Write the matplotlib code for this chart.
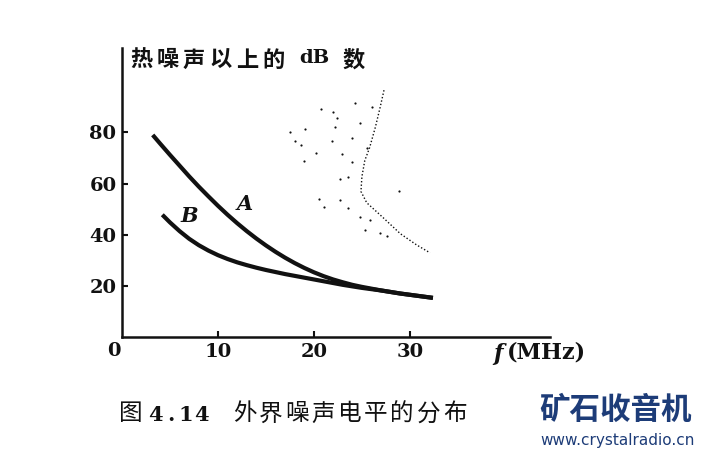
import matplotlib
matplotlib.use("Agg")
import matplotlib.pyplot as plt

# --- DATOS ---
freq_a = [3.2, 4, 5, 6, 7, 8, 9, 10, 11, 12, 13, 14, 15, 16, 17, 18, 19, 20,
          21, 22, 23, 24, 25, 26, 27, 28, 29, 30, 31, 32.4]
db_a = [79, 75.5, 71.2, 67, 62.8, 58.8, 55, 51.3, 47.8, 44.5, 41.4, 38.5, 35.8, 33.3, 31.0, 28.9, 27.0, 25.3,
        23.8, 22.5, 21.4, 20.4, 19.6, 18.9, 18.2, 17.6, 17.0, 16.5, 16.0, 15.3]

freq_b = [4.2, 5, 6, 7, 8, 9, 10, 11, 12, 13, 14, 15, 16, 17, 18, 19, 20,
          21, 22, 23, 24, 25, 26, 27, 28, 29, 30, 31, 32.4]
db_b = [47.8, 44.8, 41.4, 38.4, 35.9, 33.8, 32.0, 30.5, 29.2, 28.1, 27.1, 26.2, 25.4, 24.6, 23.9, 23.2, 22.5,
        21.8, 21.1, 20.4, 19.8, 19.2, 18.7, 18.2, 17.6, 17.0, 16.5, 16.0, 15.3]

# trazo que se transparenta desde la otra cara de la página (escaneo)
ghost_x = [27.3, 26.9, 26.4, 25.8, 25.3, 25.0, 24.9, 25.5, 27.2, 29.0, 30.7, 32.1]
ghost_y = [96.5, 89.8, 82, 74, 69, 62.7, 56.9, 52.5, 46.7, 40.4, 36, 32.9]
speck_x = [17.5, 19.1, 18.0, 18.7, 19.0, 20.2, 20.7, 22.0, 22.4, 22.2, 21.9, 24.0, 22.9, 23.5,
           22.7, 20.5, 21.0, 22.7, 23.5, 24.8, 25.8, 25.3, 26.9, 27.6, 28.9, 24.3, 26.1, 24.8, 25.5, 24.0]
speck_y = [80, 81.5, 76.5, 75, 69, 71.8, 89, 87.8, 85.5, 82, 76.5, 78, 71.4, 62.4,
           61.6, 54, 51, 53.7, 50.6, 47, 45.9, 42, 40.8, 39.6, 56.9, 91.4, 89.8, 83.5, 74, 68.6]

x_ticks = [10, 20, 30]
y_ticks = [20, 40, 60, 80]

# --- ESTILO ---
INK = "#111111"
BRAND = "#1d3c78"
SERIF = ["DejaVu Serif"]
CJK = ["Noto Sans CJK SC", "DejaVu Sans"]
W, H = 704, 453


def spaced_text(fig, chars, x0, y, pitch, **kw):
    """Escribe caracteres uno a uno con un paso fijo en píxeles."""
    for i, ch in enumerate(chars):
        fig.text((x0 + i * pitch) / W, 1 - y / H, ch, ha="center", va="center", **kw)


fig = plt.figure(figsize=(W / 100, H / 100), dpi=100)
ax = fig.add_axes([122 / W, 1 - 337 / H, 428 / W, 289 / H])

ax.plot(freq_a, db_a, color=INK, lw=3.0, solid_capstyle="butt", solid_joinstyle="round")
ax.plot(freq_b, db_b, color=INK, lw=3.0, solid_capstyle="butt", solid_joinstyle="round")
ax.plot(ghost_x, ghost_y, color=INK, lw=1.0, ls=(0, (1, 1.5)))
ax.scatter(speck_x, speck_y, s=2.5, color=INK, lw=0)

ax.text(12.8, 52, "A", fontsize=15, fontstyle="italic", fontweight="bold",
        family=SERIF, ha="center", va="center", color=INK)
ax.text(7.0, 47.5, "B", fontsize=15, fontstyle="italic", fontweight="bold",
        family=SERIF, ha="center", va="center", color=INK)

ax.set_xlim(0, 44.6)
ax.set_ylim(0, 113)
ax.set_xticks(x_ticks)
ax.set_yticks(y_ticks)
ax.tick_params(direction="in", length=4, width=1.5, color=INK, pad=4)
for lab in ax.get_xticklabels() + ax.get_yticklabels():
    lab.set_family(SERIF)
    lab.set_fontsize(14)
    lab.set_fontweight("bold")
    lab.set_color(INK)

for side in ["top", "right"]:
    ax.spines[side].set_visible(False)
for side in ["left", "bottom"]:
    ax.spines[side].set_linewidth(1.8)
    ax.spines[side].set_color(INK)

# origen "0"
fig.text(114 / W, 1 - 351 / H, "0", fontsize=14, fontweight="bold", family=SERIF,
         ha="center", va="center", color=INK)

# título del eje y
spaced_text(fig, "热噪声以上的", 141, 60, 26.5, fontsize=16, fontweight="bold", family=CJK, color=INK)
fig.text(314 / W, 1 - 58 / H, "dB", fontsize=14, fontweight="bold", family=SERIF,
         ha="center", va="center", color=INK)
fig.text(354 / W, 1 - 60 / H, "数", fontsize=16, fontweight="bold", family=CJK,
         ha="center", va="center", color=INK)

# etiqueta del eje x
fig.text(498 / W, 1 - 354 / H, "f", fontsize=16, fontstyle="italic", fontweight="bold",
         family=SERIF, ha="center", va="center", color=INK)
fig.text(546 / W, 1 - 353 / H, "(MHz)", fontsize=16, fontweight="bold", family=SERIF,
         ha="center", va="center", color=INK)

# pie de figura
fig.text(131 / W, 1 - 414 / H, "图", fontsize=17, family=CJK, ha="center", va="center", color=INK)
spaced_text(fig, "4.14", 155, 415, 15.5, fontsize=15, fontweight="bold", family=SERIF, color=INK)
spaced_text(fig, "外界噪声电平的分布", 245, 414, 26.2, fontsize=17, family=CJK, color=INK)

# marca de agua
fig.text(616 / W, 1 - 410 / H, "矿石收音机", fontsize=22, fontweight="bold", family=CJK,
         ha="center", va="center", color=BRAND)
fig.text(618 / W, 1 - 441 / H, "www.crystalradio.cn", fontsize=11, family=["DejaVu Sans"],
         ha="center", va="center", color=BRAND)

plt.savefig("out.png", dpi=100)
